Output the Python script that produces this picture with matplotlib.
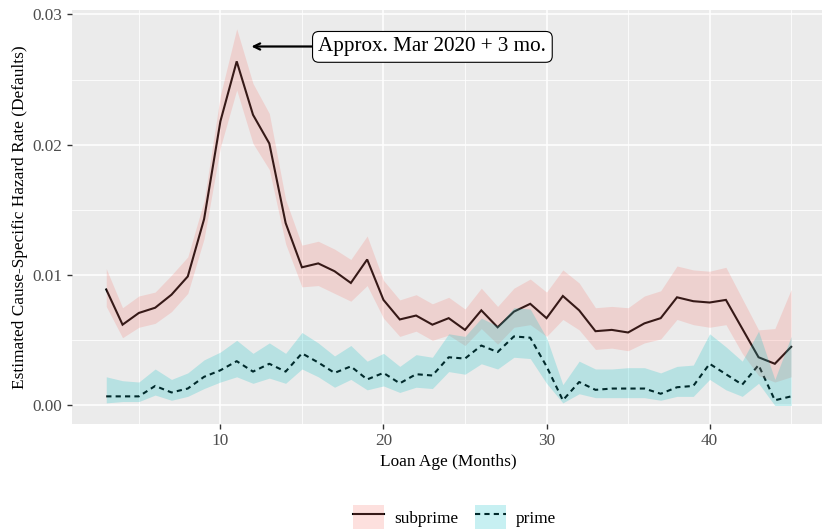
import numpy as np
import matplotlib
matplotlib.use("Agg")
import matplotlib.pyplot as plt
from matplotlib.patches import Patch
from matplotlib.lines import Line2D

# ---------------- DATA ----------------
months = np.arange(3, 46)

subprime = [0.0089, 0.0062, 0.0071, 0.0075, 0.0085, 0.0099, 0.0143, 0.0218, 0.0264, 0.0223,
            0.0201, 0.0140, 0.0106, 0.0109, 0.0103, 0.0094, 0.0112, 0.0081, 0.0066, 0.0069,
            0.0062, 0.0067, 0.0058, 0.0073, 0.0060, 0.0072, 0.0078, 0.0067, 0.0084, 0.0073,
            0.0057, 0.0058, 0.0056, 0.0063, 0.0067, 0.0083, 0.0080, 0.0079, 0.0081, 0.0059,
            0.0037, 0.0032, 0.0045]
subprime_hi = [0.0105, 0.0075, 0.0084, 0.0087, 0.0100, 0.0114, 0.0157, 0.0238, 0.0289, 0.0247,
               0.0224, 0.0158, 0.0123, 0.0126, 0.0120, 0.0112, 0.0130, 0.0096, 0.0081, 0.0085,
               0.0078, 0.0083, 0.0074, 0.0090, 0.0076, 0.0090, 0.0097, 0.0087, 0.0104, 0.0094,
               0.0075, 0.0076, 0.0075, 0.0084, 0.0088, 0.0107, 0.0104, 0.0103, 0.0106, 0.0082,
               0.0058, 0.0059, 0.0089]
subprime_lo = [0.0076, 0.0052, 0.0060, 0.0063, 0.0072, 0.0086, 0.0128, 0.0198, 0.0242, 0.0201,
               0.0181, 0.0124, 0.0091, 0.0092, 0.0086, 0.0080, 0.0092, 0.0067, 0.0053, 0.0057,
               0.0050, 0.0054, 0.0046, 0.0059, 0.0047, 0.0060, 0.0062, 0.0053, 0.0066, 0.0058,
               0.0043, 0.0044, 0.0042, 0.0048, 0.0051, 0.0066, 0.0062, 0.0060, 0.0062, 0.0040,
               0.0023, 0.0018, 0.0022]

prime = [0.0007, 0.0007, 0.0007, 0.0015, 0.0010, 0.0013, 0.0022, 0.0027, 0.0034, 0.0026,
         0.0032, 0.0026, 0.0040, 0.0033, 0.0025, 0.0030, 0.0020, 0.0025, 0.0017, 0.0024,
         0.0023, 0.0037, 0.0036, 0.0046, 0.0041, 0.0053, 0.0052, 0.0030, 0.0004, 0.0018,
         0.0012, 0.0013, 0.0013, 0.0013, 0.0009, 0.0014, 0.0015, 0.0032, 0.0024, 0.0016,
         0.0031, 0.0004, 0.0007]
prime_hi = [0.0022, 0.0019, 0.0018, 0.0028, 0.0020, 0.0025, 0.0035, 0.0041, 0.0050, 0.0040,
            0.0048, 0.0040, 0.0056, 0.0048, 0.0038, 0.0046, 0.0034, 0.0040, 0.0030, 0.0039,
            0.0037, 0.0055, 0.0053, 0.0067, 0.0061, 0.0075, 0.0074, 0.0052, 0.0016, 0.0034,
            0.0028, 0.0028, 0.0029, 0.0029, 0.0025, 0.0030, 0.0031, 0.0055, 0.0045, 0.0034,
            0.0057, 0.0020, 0.0053]
prime_lo = [0.0002, 0.0003, 0.0003, 0.0008, 0.0004, 0.0007, 0.0013, 0.0018, 0.0022, 0.0017,
            0.0021, 0.0017, 0.0028, 0.0022, 0.0014, 0.0020, 0.0012, 0.0015, 0.0010, 0.0014,
            0.0013, 0.0026, 0.0024, 0.0032, 0.0028, 0.0037, 0.0036, 0.0017, 0.0002, 0.0009,
            0.0006, 0.0006, 0.0006, 0.0006, 0.0004, 0.0007, 0.0007, 0.0020, 0.0012, 0.0007,
            0.0017, 0.0000, 0.0000]

x_ticks = [10, 20, 30, 40]
y_ticks = [0.00, 0.01, 0.02, 0.03]
y_ticklabels = ["0.00", "0.01", "0.02", "0.03"]
note_text = "Approx. Mar 2020 + 3 mo."

# ---------------- STYLE ----------------
RED = "#F8766D"
TEAL = "#00BFC4"
FILL_ALPHA = 0.22
plt.rcParams['font.family'] = ['Liberation Serif', 'DejaVu Serif']

W, H = 822, 531
fig = plt.figure(figsize=(W / 100, H / 100), dpi=100)
ax = fig.add_axes([72 / W, (H - 424) / H, (825.4 - 72) / W, (424 - 10) / H])
ax.set_facecolor("#EBEBEB")
for s in ax.spines.values():
    s.set_visible(False)

# grid
ax.set_xticks(x_ticks)
ax.set_xticks([5, 15, 25, 35, 45], minor=True)
ax.set_yticks(y_ticks)
ax.set_yticks([0.005, 0.015, 0.025], minor=True)
ax.grid(which='major', color='white', lw=1.1)
ax.grid(which='minor', color='white', lw=0.55)
ax.set_axisbelow(True)

# lines first, ribbons on top (tints the lines like the original)
ax.plot(months, subprime, color='black', lw=1.5, solid_joinstyle='miter', zorder=2)
ax.plot(months, prime, color='black', lw=1.5, dashes=(2.5, 2.0), zorder=2)
ax.fill_between(months, subprime_lo, subprime_hi, color=RED, alpha=FILL_ALPHA, lw=0, zorder=3)
ax.fill_between(months, prime_lo, prime_hi, color=TEAL, alpha=FILL_ALPHA, lw=0, zorder=3)

ax.set_xlim(0.9, 47.1)
ax.set_ylim(-0.00142, 0.03034)
ax.set_yticklabels(y_ticklabels)

ax.tick_params(which='major', length=3.8, width=1.0, color='#333333',
               labelcolor='#4D4D4D', labelsize=12.4, pad=3)
ax.tick_params(which='minor', length=0)

ax.set_xlabel("Loan Age (Months)", fontsize=12.4, labelpad=3)
ax.set_ylabel("Estimated Cause-Specific Hazard Rate (Defaults)", fontsize=12.4, labelpad=3)

# annotation
ax.annotate("", xy=(11.9, 0.02754), xytext=(15.8, 0.02754),
            arrowprops=dict(arrowstyle='->,head_length=0.45,head_width=0.22',
                            lw=1.6, color='black', shrinkA=0, shrinkB=0), zorder=5)
ax.text(23, 0.02751, note_text, ha='center', va='center', fontsize=15.2, zorder=6,
        bbox=dict(boxstyle='round,pad=0.28,rounding_size=0.3', fc='white', ec='black', lw=0.8))

# legend at bottom
h_sub = (Line2D([], [], color='black', lw=1.5),
         Patch(facecolor=RED, alpha=FILL_ALPHA, edgecolor='none'))
h_pri = (Line2D([], [], color='black', lw=1.5, dashes=(2.5, 2.0)),
         Patch(facecolor=TEAL, alpha=FILL_ALPHA, edgecolor='none'))
leg = fig.legend([h_sub, h_pri], ["subprime", "prime"], loc='center', ncol=2,
                 bbox_to_anchor=(0.553, 0.026), frameon=False, fontsize=12.4,
                 handlelength=1.8, handleheight=1.8, handletextpad=0.55,
                 columnspacing=1.0, borderpad=0)

fig.savefig("out.png", dpi=100)
